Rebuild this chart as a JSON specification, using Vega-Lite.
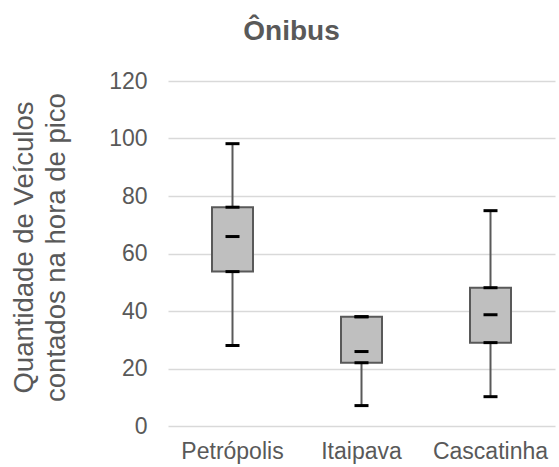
{
  "$schema": "https://vega.github.io/schema/vega-lite/v6.json",
  "width": 387,
  "height": 345,
  "autosize": {"type": "none"},
  "padding": {"left": 168, "top": 81, "right": 4, "bottom": 41},
  "background": "white",
  "config": {
    "font": "Liberation Sans",
    "view": {"stroke": null}
  },
  "title": {
    "text": "Ônibus",
    "fontSize": 28,
    "fontWeight": "bold",
    "color": "#595959",
    "font": "Liberation Sans",
    "anchor": "middle",
    "frame": "group",
    "dx": -70,
    "offset": 2,
    "baseline": "alphabetic"
  },
  "data": {
    "values": [
      {"local": "Petrópolis", "min": 28, "q1": 53.7, "median": 65.9, "q3": 76.1, "max": 98.2},
      {"local": "Itaipava", "min": 7.1, "q1": 22, "median": 25.9, "q3": 38, "max": 38},
      {"local": "Cascatinha", "min": 10.2, "q1": 29, "median": 38.7, "q3": 48.1, "max": 74.9}
    ]
  },
  "encoding": {
    "x": {
      "field": "local",
      "type": "nominal",
      "sort": null,
      "scale": {"paddingInner": 0, "paddingOuter": 0},
      "axis": {
        "title": null,
        "domain": false,
        "ticks": false,
        "labelAngle": 0,
        "labelFontSize": 23,
        "labelColor": "#595959",
        "labelPadding": 14
      }
    }
  },
  "layer": [
    {
      "mark": {"type": "rule", "color": "#595959", "strokeWidth": 2},
      "encoding": {
        "y": {
          "field": "min",
          "type": "quantitative",
          "scale": {"domain": [0, 120], "nice": false},
          "axis": {
            "values": [0, 20, 40, 60, 80, 100, 120],
            "title": ["Quantidade de Veículos", "contados na hora de pico"],
            "titleFontSize": 27.5,
            "titleFontWeight": "normal",
            "titleColor": "#595959",
            "titleLineHeight": 32,
            "titlePadding": 38,
            "titleY": 166,
            "domain": false,
            "ticks": false,
            "labelFontSize": 23,
            "labelColor": "#595959",
            "labelPadding": 21,
            "gridColor": "#D9D9D9",
            "gridWidth": 1.3
          }
        },
        "y2": {"field": "max"}
      }
    },
    {
      "mark": {"type": "bar", "size": 41, "fill": "#BFBFBF", "stroke": "#595959", "strokeWidth": 2},
      "encoding": {
        "y": {"field": "q1", "type": "quantitative"},
        "y2": {"field": "q3"}
      }
    },
    {
      "transform": [{"fold": ["min", "q1", "median", "q3", "max"], "as": ["stat", "valor"]}],
      "mark": {"type": "tick", "size": 14, "thickness": 3, "color": "#000000", "opacity": 1},
      "encoding": {
        "y": {"field": "valor", "type": "quantitative"}
      }
    }
  ]
}
